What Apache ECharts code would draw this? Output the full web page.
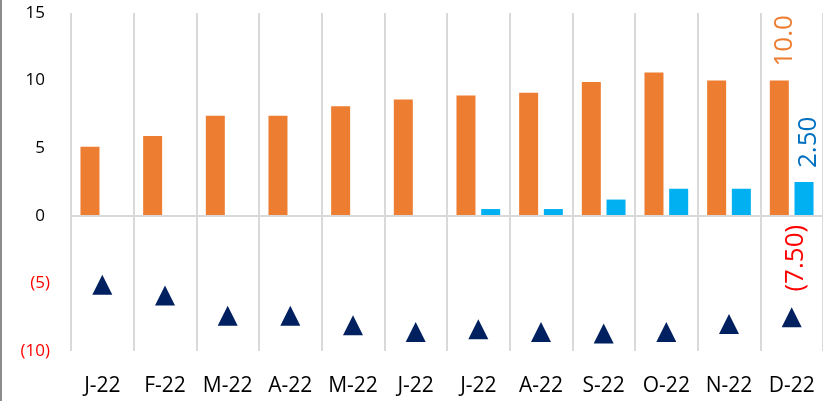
<!DOCTYPE html>
<html>
<head>
<meta charset="utf-8">
<script src="https://cdn.jsdelivr.net/npm/echarts@6/dist/echarts.min.js"></script>
<style>
  body { margin: 0; background: #fff; }
  #wrap { width: 821px; height: 401px; border-left: 2px solid #8c8c8c; }
  #chart { width: 821px; height: 401px; }
</style>
</head>
<body>
<div id="wrap"><div id="chart"></div></div>
<script>
// 月份
const months = ['J-22', 'F-22', 'M-22', 'A-22', 'M-22', 'J-22', 'J-22', 'A-22', 'S-22', 'O-22', 'N-22', 'D-22']
// 橙色柱
const orangeVals = [5.1, 5.9, 7.4, 7.4, 8.1, 8.6, 8.9, 9.1, 9.9, 10.6, 10.0, 10.0]
// 蓝色柱
const blueVals = [0, 0, 0, 0, 0, 0, 0.5, 0.5, 1.2, 2.0, 2.0, 2.5]
// 三角
const gapVals = [-5.1, -5.9, -7.4, -7.4, -8.1, -8.6, -8.4, -8.6, -8.7, -8.6, -8.0, -7.5]

const font = 'Open Sans'
const last = months.length - 1

const chart = echarts.init(document.getElementById('chart'))

// 旋转后 offset 按文字方向算：[0, y] 是屏幕上的左右
const rotLabel = (color, text) => ({
  show: true,
  position: 'top',
  rotate: 90,
  align: 'left',
  verticalAlign: 'middle',
  distance: 14,
  offset: [0, 5],
  fontFamily: font,
  fontSize: 26,
  color: color,
  formatter: text
})

const option = {
  animation: false,
  grid: {left: 69, right: -5, top: 13, bottom: 50},
  xAxis: {
    type: 'category',
    data: months,
    axisLine: {show: false},
    axisTick: {show: false},
    axisLabel: {
      interval: 0,
      margin: 25,
      fontFamily: font,
      fontSize: 21,
      color: '#000'
    },
    splitLine: {
      show: true,
      interval: 0,
      lineStyle: {color: '#d9d9d9', width: 2}
    }
  },
  yAxis: {
    type: 'value',
    min: -10,
    max: 15,
    interval: 5,
    axisLine: {show: false},
    axisTick: {show: false},
    splitLine: {show: false},
    axisLabel: {
      margin: 21,
      formatter: v => v < 0 ? '{n|(' + (-v) + ')}' : '{p|' + v + '}',
      rich: {
        p: {fontFamily: font, fontSize: 17, color: '#000', padding: [0, 5, 0, 0]},
        n: {fontFamily: font, fontSize: 17, color: '#ff0000'}
      }
    }
  },
  series: [
    {
      name: 'orange',
      type: 'bar',
      barWidth: 19,
      barGap: '30%',
      itemStyle: {color: '#ed7d31'},
      data: orangeVals.map((v, i) => i === last
        ? {value: v, label: rotLabel('#ed7d31', p => p.value.toFixed(1))}
        : v),
      markLine: {
        silent: true,
        symbol: 'none',
        label: {show: false},
        lineStyle: {color: '#d9d9d9', width: 2, type: 'solid'},
        data: [{yAxis: 0}]
      }
    },
    {
      // (7.50) 标签挂在零线下方
      name: 'gapLabel',
      type: 'bar',
      stack: 'b',
      barWidth: 19,
      itemStyle: {color: 'transparent'},
      data: gapVals.map((v, i) => i === last
        ? {
          value: 0,
          label: {
            show: true,
            position: 'bottom',
            rotate: 90,
            align: 'right',
            verticalAlign: 'middle',
            distance: 9,
            offset: [0, -8],
            fontFamily: font,
            fontSize: 26,
            color: '#ff0000',
            formatter: () => '(' + (-v).toFixed(2) + ')'
          }
        }
        : 0)
    },
    {
      name: 'blue',
      type: 'bar',
      stack: 'b',
      barWidth: 19,
      itemStyle: {color: '#00b0f0'},
      data: blueVals.map((v, i) => i === last
        ? {value: v, label: rotLabel('#0070c0', p => p.value.toFixed(2))}
        : v)
    },
    {
      name: 'gap',
      type: 'scatter',
      symbol: 'triangle',
      symbolSize: 20,
      itemStyle: {color: '#002060', opacity: 1},
      z: 5,
      data: gapVals
    }
  ]
}

chart.setOption(option)
</script>
</body>
</html>
